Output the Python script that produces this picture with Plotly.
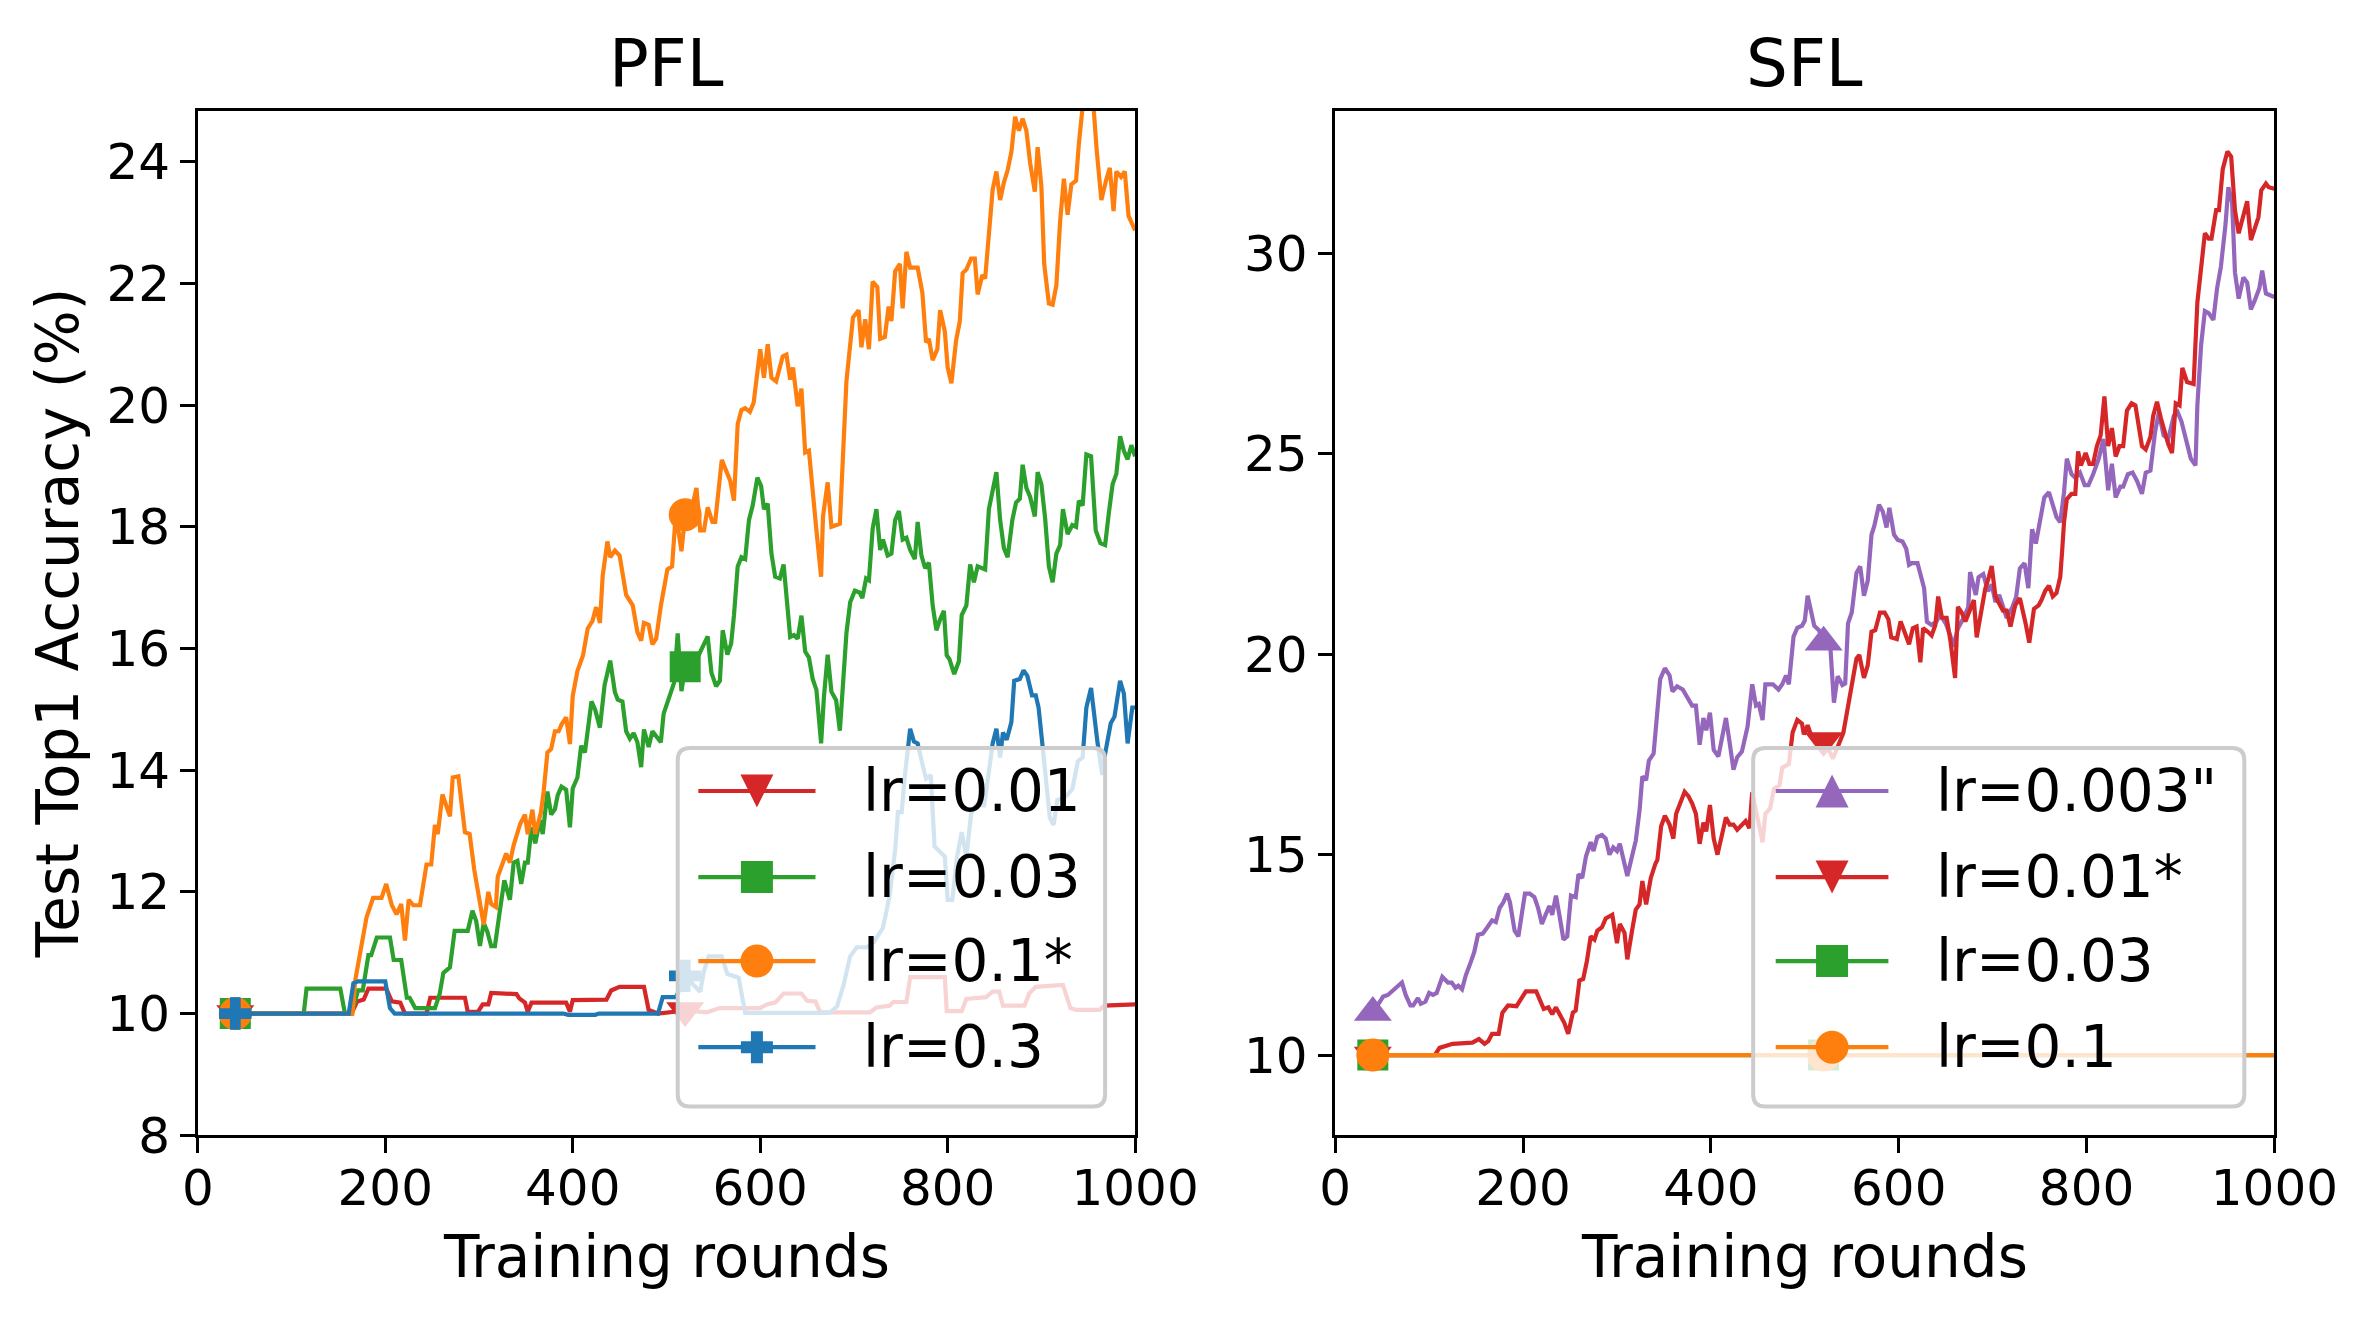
import plotly.graph_objects as go

# Colours (matplotlib tab10)
RED = "#d62728"
GREEN = "#2ca02c"
ORANGE = "#ff7f0e"
BLUE = "#1f77b4"
PURPLE = "#9467bd"

# Rounds that carry a marker on every curve
marker_rounds = [40, 520]

# ---------------- PFL ----------------
pfl_lr001_rounds = [40, 164, 170, 177, 182, 201, 207, 216, 221, 244, 248, 285, 288, 299, 304, 310, 313, 340, 343, 349,
                    352, 356, 393, 397, 400, 436, 441, 450, 476, 481, 491, 520, 543, 557, 600, 607, 616, 625, 644, 650,
                    659, 664, 717, 724, 738, 742, 756, 760, 797, 799, 815, 820, 841, 848, 855, 859, 882, 887, 894, 923,
                    931, 937, 962, 967, 1000]
pfl_lr001_acc = [10, 10, 10.2, 10.23, 10.41, 10.41, 10.2, 10.18, 10, 10, 10.26, 10.26, 10.03, 10.03, 10.15, 10.15, 10.34,
                 10.32, 10.25, 10.18, 10.03, 10.18, 10.18, 10.03, 10.22, 10.23, 10.38, 10.44, 10.44, 10.06, 10, 10.05,
                 10.02, 10.09, 10.09, 10.15, 10.18, 10.33, 10.33, 10.21, 10.2, 10.02, 10.02, 10.1, 10.13, 10.19, 10.19,
                 10.6, 10.6, 10.04, 10.04, 10.24, 10.27, 10.36, 10.36, 10.13, 10.13, 10.33, 10.44, 10.47, 10.09, 10.06,
                 10.06, 10.13, 10.15]

pfl_lr003_rounds = [40, 113, 116, 152, 157, 164, 171, 176, 182, 185, 191, 205, 209, 217, 223, 226, 232, 253, 258, 262,
                    269, 274, 288, 293, 297, 301, 305, 309, 313, 317, 322, 327, 333, 337, 341, 345, 349, 352, 356, 360,
                    365, 368, 373, 377, 381, 384, 388, 393, 397, 400, 405, 409, 413, 420, 424, 429, 434, 440, 445, 448,
                    453, 457, 461, 465, 469, 473, 476, 481, 485, 494, 497, 505, 508, 512, 516, 520, 530, 544, 548, 553,
                    557, 560, 565, 569, 572, 576, 580, 584, 588, 592, 597, 601, 604, 608, 612, 616, 621, 625, 628, 632,
                    636, 640, 644, 648, 652, 656, 660, 665, 668, 672, 676, 681, 685, 689, 692, 696, 701, 706, 709, 713,
                    716, 720, 724, 728, 731, 736, 740, 744, 748, 752, 756, 760, 765, 768, 772, 776, 780, 784, 788, 792,
                    796, 799, 802, 807, 812, 815, 820, 824, 828, 832, 840, 844, 848, 852, 856, 860, 864, 869, 873, 877,
                    880, 884, 888, 893, 896, 900, 904, 908, 912, 916, 920, 923, 928, 933, 937, 940, 944, 948, 953, 958,
                    963, 968, 972, 976, 980, 984, 988, 992, 996, 1000]
pfl_lr003_acc = [10, 10, 10.41, 10.41, 10, 10, 10.38, 10.38, 10.96, 10.96, 11.25, 11.25, 10.88, 10.88, 10.26, 10.26,
                 10.09, 10.09, 10.32, 10.67, 10.76, 11.36, 11.36, 11.69, 11.52, 11.11, 11.49, 11.34, 11.11, 11.11, 11.66,
                 12.19, 11.87, 12.48, 12.51, 12.13, 12.48, 12.48, 13.06, 12.8, 13.18, 12.95, 13.65, 13.27, 13.36, 13.59,
                 13.73, 13.68, 13.06, 13.7, 13.88, 14.4, 14.29, 15.13, 14.99, 14.7, 15.4, 15.8, 15.28, 15.16, 15.13,
                 14.64, 14.52, 14.61, 14.46, 14.05, 14.67, 14.38, 14.64, 14.46, 14.93, 15.28, 15.43, 16.25, 15.3, 15.7,
                 15.75, 16.2, 15.6, 15.38, 15.47, 16.3, 15.9, 16.08, 16.54, 17.35, 17.5, 17.47, 18.11, 18.35, 18.81,
                 18.67, 18.29, 18.38, 17.56, 17.18, 17.15, 17.38, 16.89, 16.19, 16.22, 16.16, 16.54, 15.95, 15.85, 15.5,
                 15.32, 14.44, 15.2, 15.9, 15.29, 15.15, 14.65, 15.61, 16.25, 16.76, 16.95, 16.92, 16.83, 17.15, 17.12,
                 17.97, 18.29, 17.62, 17.79, 17.53, 17.56, 18.11, 18.26, 17.79, 17.82, 17.62, 17.47, 18.08, 17.53,
                 17.32, 17.41, 16.71, 16.3, 16.48, 16.62, 15.89, 15.82, 15.58, 15.79, 16.55, 16.71, 17.38, 17.09, 17.35,
                 17.3, 18.29, 18.58, 18.9, 18.11, 17.65, 17.5, 18.11, 18.4, 18.46, 19.02, 18.64, 18.49, 18.17, 18.9,
                 18.7, 18.14, 17.35, 17.09, 17.56, 17.7, 18.29, 17.88, 18.03, 18.0, 18.43, 18.35, 19.19, 19.16, 17.94,
                 17.73, 17.7, 18.23, 18.7, 18.87, 19.49, 19.25, 19.11, 19.34, 19.16]

pfl_lr01_rounds = [40, 165, 168, 180, 187, 196, 201, 207, 212, 217, 221, 225, 230, 237, 244, 249, 253, 256, 261, 269,
                   272, 278, 285, 290, 295, 301, 305, 310, 313, 318, 320, 329, 333, 337, 344, 349, 352, 357, 360, 366,
                   369, 373, 377, 381, 385, 388, 393, 397, 400, 405, 411, 416, 421, 425, 429, 432, 437, 440, 445, 450,
                   457, 464, 469, 473, 476, 481, 485, 489, 494, 501, 506, 510, 516, 520, 527, 532, 536, 540, 544, 549,
                   552, 559, 565, 568, 572, 576, 580, 584, 589, 593, 600, 604, 608, 612, 617, 624, 628, 632, 635, 640,
                   644, 648, 652, 656, 660, 665, 667, 672, 676, 685, 692, 699, 705, 708, 712, 716, 720, 725, 728, 733,
                   737, 740, 744, 749, 752, 756, 760, 768, 773, 777, 780, 784, 789, 792, 797, 800, 804, 809, 813, 816,
                   820, 825, 829, 832, 837, 840, 845, 848, 852, 856, 860, 864, 868, 872, 876, 880, 884, 888, 893, 896,
                   900, 903, 908, 912, 916, 920, 924, 928, 932, 937, 940, 944, 951, 956, 959, 964, 969, 973, 977, 980,
                   985, 989, 993, 1000]
pfl_lr01_acc = [10, 10, 10.55, 11.58, 11.9, 11.9, 12.13, 11.78, 11.63, 11.8, 11.2, 11.87, 11.78, 11.78, 12.45, 12.45,
                13.1, 12.95, 13.6, 13.24, 13.88, 13.9, 12.98, 12.95, 12.36, 11.84, 11.46, 12.0, 11.8, 11.75, 12.25,
                12.63, 12.48, 12.77, 13.12, 13.27, 12.95, 13.35, 12.95, 13.3, 13.65, 14.29, 14.35, 14.64, 14.64, 14.75,
                14.87, 14.43, 15.22, 15.63, 15.89, 16.33, 16.45, 16.68, 16.42, 17.2, 17.76, 17.5, 17.61, 17.53, 16.88,
                16.71, 16.27, 16.13, 16.42, 16.39, 16.07, 16.16, 16.7, 17.3, 17.35, 18.23, 17.6, 18.2, 18.3, 18.64,
                17.94, 17.94, 18.32, 18.08, 18.08, 19.1, 18.87, 18.76, 18.43, 19.69, 19.92, 19.95, 19.89, 20.04, 20.92,
                20.45, 21.0, 20.45, 20.39, 20.8, 20.83, 20.42, 20.62, 19.98, 20.27, 19.22, 19.25, 18.52, 17.94, 17.18,
                18.17, 18.73, 18.0, 18.05, 20.39, 21.44, 21.56, 20.95, 21.41, 20.92, 22.03, 21.94, 21.09, 21.12, 21.62,
                21.38, 22.2, 22.32, 21.59, 22.52, 22.26, 22.26, 21.85, 21.03, 21.09, 20.74, 20.92, 21.56, 21.21, 20.62,
                20.36, 21.06, 21.38, 22.17, 22.23, 22.41, 22.41, 21.82, 22.14, 22.08, 23.13, 23.54, 23.84, 23.37, 23.66,
                23.86, 24.16, 24.74, 24.51, 24.71, 24.51, 23.98, 23.51, 24.24, 23.6, 22.32, 21.67, 21.65, 21.97, 23.02,
                23.72, 23.13, 23.63, 23.69, 24.3, 24.9, 25.3, 24.83, 24.19, 23.37, 23.69, 23.9, 23.19, 23.84, 23.75,
                23.84, 23.11, 22.87]

pfl_lr03_rounds = [40, 161, 166, 171, 200, 205, 210, 390, 395, 424, 428, 491, 496, 510, 516, 520, 529, 536, 540, 545,
                   559, 565, 577, 584, 674, 682, 689, 696, 703, 714, 721, 726, 731, 738, 744, 747, 751, 754, 760, 764,
                   768, 774, 777, 782, 786, 790, 797, 800, 805, 810, 815, 820, 825, 830, 839, 845, 848, 852, 856, 859,
                   863, 868, 871, 877, 881, 885, 890, 894, 897, 901, 905, 909, 913, 917, 923, 928, 933, 939, 944, 948,
                   953, 957, 960, 965, 968, 974, 978, 984, 988, 992, 997, 1000]
pfl_lr03_acc = [10, 10, 10.5, 10.53, 10.53, 10.09, 10, 10, 9.98, 9.98, 10, 10, 10.27, 10.27, 10.45, 10.62, 10.47, 10.36,
                10.7, 10.94, 10.94, 10.65, 10.59, 10.01, 10.01, 10.12, 10.47, 10.94, 11.09, 11.09, 11.17, 11.29, 11.41,
                11.93, 12.69, 13.31, 13.31, 13.86, 14.68, 14.47, 14.44, 14.04, 13.86, 13.92, 12.75, 12.69, 12.58, 11.87,
                11.87, 12.58, 12.98, 12.58, 13.28, 13.42, 13.42, 14.09, 14.44, 14.68, 14.21, 14.62, 14.5, 14.79, 15.47,
                15.5, 15.64, 15.55, 15.23, 15.23, 15.03, 14.44, 13.86, 13.22, 13.1, 13.51, 13.54, 13.6, 13.69, 14.15,
                14.21, 15.03, 15.35, 14.82, 14.44, 13.92, 14.27, 14.77, 14.88, 15.47, 15.26, 14.44, 15.03, 15.03]

# ---------------- SFL ----------------
sfl_lr0003_rounds = [40, 51, 56, 63, 71, 75, 80, 83, 88, 91, 96, 100, 104, 108, 114, 120, 124, 128, 131, 135, 139, 144,
                     148, 152, 157, 162, 167, 171, 175, 179, 183, 186, 191, 195, 199, 202, 207, 212, 216, 220, 224, 228,
                     231, 235, 239, 243, 247, 251, 256, 259, 263, 267, 272, 275, 279, 284, 288, 292, 296, 300, 303, 307,
                     311, 316, 320, 324, 327, 331, 334, 339, 342, 346, 351, 356, 359, 364, 370, 374, 380, 384, 388, 392,
                     395, 399, 403, 408, 412, 416, 420, 424, 428, 433, 439, 444, 448, 451, 455, 458, 466, 472, 476, 480,
                     483, 488, 492, 497, 500, 503, 510, 515, 520, 527, 531, 535, 540, 543, 546, 550, 555, 559, 563, 567,
                     571, 574, 579, 583, 587, 590, 595, 599, 604, 608, 611, 614, 620, 623, 627, 630, 635, 640, 644, 650,
                     655, 658, 663, 668, 674, 676, 682, 685, 690, 695, 699, 703, 707, 712, 715, 721, 725, 729, 734, 738,
                     742, 746, 751, 755, 760, 764, 768, 772, 776, 779, 784, 788, 793, 798, 802, 807, 813, 818, 823, 827,
                     831, 836, 839, 844, 849, 854, 859, 863, 868, 873, 877, 882, 887, 893, 897, 901, 907, 911, 916, 918,
                     922, 926, 930, 935, 939, 943, 948, 951, 955, 958, 962, 967, 971, 975, 979, 984, 987, 991, 1000]
sfl_lr0003_acc = [11.06, 11.46, 11.5, 11.64, 11.81, 11.5, 11.24, 11.24, 11.42, 11.28, 11.33, 11.55, 11.5, 11.55, 11.95,
                  11.81, 11.81, 11.68, 11.73, 11.64, 11.99, 12.3, 12.57, 13.0, 13.03, 13.19, 13.36, 13.32, 13.67, 13.81,
                  14.03, 13.81, 13.1, 12.96, 13.54, 14.03, 14.03, 13.94, 13.67, 13.27, 13.5, 13.72, 13.5, 13.98, 13.45,
                  12.88, 12.96, 13.98, 13.94, 14.51, 14.42, 14.96, 15.31, 15.09, 15.44, 15.49, 15.4, 15.0, 15.18, 15.09,
                  15.27, 14.82, 14.47, 14.96, 15.35, 16.1, 16.95, 16.86, 17.35, 17.52, 18.23, 19.38, 19.65, 19.47,
                  19.07, 19.2, 19.12, 18.94, 18.72, 18.72, 17.74, 18.41, 18.1, 18.54, 17.61, 17.45, 17.96, 18.41, 17.79,
                  17.12, 17.43, 17.57, 18.19, 19.25, 18.72, 18.76, 18.36, 19.25, 19.25, 19.12, 19.25, 19.47, 19.25,
                  20.44, 20.66, 20.71, 20.84, 21.46, 20.71, 20.6, 20.3, 20.25, 18.79, 19.45, 19.23, 19.27, 20.77, 21.04,
                  22.03, 22.19, 21.46, 21.83, 22.98, 23.2, 23.73, 23.56, 23.16, 23.65, 22.98, 22.85, 22.81, 22.63,
                  22.23, 22.27, 22.27, 22.0, 21.65, 20.81, 20.73, 20.81, 20.99, 20.77, 20.46, 20.19, 20.64, 20.86,
                  21.17, 22.05, 21.48, 21.92, 22.0, 21.57, 21.74, 21.3, 21.48, 21.12, 20.9, 21.17, 21.43, 22.14, 22.27,
                  21.65, 23.12, 22.76, 23.42, 23.91, 24.04, 23.73, 23.42, 23.29, 24.04, 24.88, 24.49, 24.4, 24.53,
                  24.22, 24.22, 24.49, 24.88, 25.37, 24.09, 24.75, 23.91, 24.18, 24.18, 24.49, 24.53, 24.31, 24.0,
                  24.53, 24.58, 25.55, 26.04, 25.46, 25.37, 25.95, 26.04, 25.81, 25.28, 24.88, 24.71, 26.21, 27.72,
                  28.56, 28.51, 28.34, 29.13, 29.66, 30.73, 31.65, 31.26, 29.53, 28.87, 29.4, 29.27, 28.6, 28.82, 29.13,
                  29.57, 29.0, 28.91]

sfl_lr001_rounds = [40, 106, 111, 118, 125, 146, 153, 159, 163, 167, 174, 178, 184, 193, 198, 203, 214, 219, 222, 227,
                    231, 235, 239, 244, 248, 253, 256, 260, 264, 268, 272, 276, 279, 284, 288, 295, 300, 303, 308, 311,
                    316, 320, 324, 327, 331, 336, 341, 343, 347, 351, 356, 360, 363, 366, 372, 376, 380, 384, 388, 392,
                    395, 399, 403, 407, 412, 416, 420, 424, 428, 433, 437, 441, 444, 448, 455, 458, 463, 467, 473, 476,
                    483, 487, 492, 497, 499, 503, 507, 520, 530, 541, 547, 552, 555, 558, 563, 567, 571, 575, 580, 585,
                    589, 592, 598, 602, 607, 611, 615, 619, 623, 626, 631, 635, 639, 642, 646, 651, 655, 660, 663, 667,
                    671, 675, 680, 683, 688, 692, 696, 699, 703, 706, 711, 715, 719, 724, 729, 735, 739, 744, 749, 752,
                    756, 760, 764, 768, 772, 774, 776, 779, 784, 788, 791, 794, 799, 803, 807, 811, 815, 819, 823, 827,
                    831, 835, 839, 843, 848, 852, 855, 859, 863, 868, 871, 875, 879, 884, 887, 891, 895, 899, 902, 907,
                    914, 918, 922, 926, 930, 933, 938, 941, 945, 950, 954, 958, 962, 966, 971, 975, 979, 983, 986, 991,
                    994, 1000]
sfl_lr001_acc = [10, 10, 10.18, 10.22, 10.28, 10.31, 10.4, 10.28, 10.35, 10.53, 10.53, 11.06, 11.24, 11.22, 11.42, 11.59,
                 11.59, 11.28, 11.15, 11.19, 11.02, 11.19, 11.02, 10.8, 10.53, 11.06, 11.11, 11.86, 11.9, 12.35, 12.96,
                 12.88, 13.1, 13.19, 13.41, 13.5, 12.79, 13.27, 13.05, 12.39, 13.1, 13.63, 13.76, 14.34, 13.76, 14.42,
                 14.78, 14.87, 15.71, 15.97, 15.75, 15.4, 16.02, 16.19, 16.57, 16.46, 16.28, 16.02, 15.27, 15.8, 15.58,
                 16.24, 15.4, 15.0, 15.58, 15.93, 15.75, 15.75, 15.62, 15.75, 15.84, 15.66, 16.55, 16.1, 15.31, 16.02,
                 16.15, 16.64, 16.73, 17.17, 17.26, 18.05, 18.36, 18.27, 18.0, 18.23, 17.96, 17.85, 17.4, 18.04, 18.83,
                 19.36, 19.89, 19.98, 19.41, 19.72, 20.56, 20.6, 21.04, 21.04, 20.87, 20.42, 20.38, 20.82, 20.51, 20.25,
                 20.65, 20.69, 19.8, 20.65, 20.56, 20.47, 20.73, 21.44, 20.91, 20.91, 20.34, 19.41, 21.18, 21.04, 20.82,
                 21.04, 21.35, 20.42, 21.13, 21.62, 21.93, 22.2, 21.44, 21.31, 21.09, 21.09, 20.69, 21.22, 21.4, 20.78,
                 20.29, 21.13, 21.22, 21.35, 21.58, 21.71, 21.44, 21.53, 21.93, 22.58, 23.29, 23.87, 24.0, 24.0, 25.06,
                 24.71, 25.02, 24.75, 24.75, 25.19, 25.46, 26.43, 25.19, 25.64, 24.93, 25.19, 25.19, 26.08, 26.26,
                 26.21, 25.73, 25.19, 25.11, 25.42, 25.95, 26.3, 25.9, 25.5, 25.24, 25.02, 26.26, 26.21, 27.14, 26.79,
                 26.74, 28.78, 29.71, 30.5, 30.37, 30.37, 31.08, 31.08, 32.1, 32.54, 32.41, 31.08, 30.5, 30.9, 31.3,
                 30.33, 30.59, 30.9, 31.57, 31.74, 31.65, 31.61]

sfl_lr003_rounds = [40, 520, 1000]
sfl_lr003_acc = [10, 10, 10]

sfl_lr01_rounds = [40, 520, 1000]
sfl_lr01_acc = [10, 10, 10]

# Series for each panel: (label, rounds, acc, colour, plotly symbol, marker size, legend glyph)
pfl_series = [
    ("lr=0.01", pfl_lr001_rounds, pfl_lr001_acc, RED, "triangle-down", 33, "tri_down"),
    ("lr=0.03", pfl_lr003_rounds, pfl_lr003_acc, GREEN, "square", 31, "square"),
    ("lr=0.1*", pfl_lr01_rounds, pfl_lr01_acc, ORANGE, "circle", 33, "circle"),
    ("lr=0.3", pfl_lr03_rounds, pfl_lr03_acc, BLUE, "cross", 27, "plus"),
]
sfl_series = [
    ('lr=0.003"', sfl_lr0003_rounds, sfl_lr0003_acc, PURPLE, "triangle-up", 33, "tri_up"),
    ("lr=0.01*", sfl_lr001_rounds, sfl_lr001_acc, RED, "triangle-down", 33, "tri_down"),
    ("lr=0.03", sfl_lr003_rounds, sfl_lr003_acc, GREEN, "square", 31, "square"),
    ("lr=0.1", sfl_lr01_rounds, sfl_lr01_acc, ORANGE, "circle", 33, "circle"),
]

FONT = "DejaVu Sans"
LINE_W = 4.2

fig = go.Figure()


def add_curves(series, xa, ya):
    for label, rounds, acc, colour, symbol, size, _ in series:
        fig.add_trace(go.Scatter(
            x=rounds, y=acc, mode="lines", name=label, showlegend=False,
            line=dict(color=colour, width=LINE_W), xaxis=xa, yaxis=ya,
        ))
        idx = [i for i, r in enumerate(rounds) if r in marker_rounds]
        fig.add_trace(go.Scatter(
            x=[rounds[i] for i in idx], y=[acc[i] for i in idx], mode="markers",
            showlegend=False, marker=dict(color=colour, symbol=symbol, size=size, line=dict(width=0)),
            xaxis=xa, yaxis=ya,
        ))


add_curves(pfl_series, "x", "y")
add_curves(sfl_series, "x2", "y2")

# Hand-drawn legends (matplotlib look: rounded, semi-transparent frame)
GLYPHS = {
    "tri_down": "M -16.5,16.5 L 16.5,16.5 L 0,-16.5 Z",
    "tri_up": "M -16.5,-16.5 L 16.5,-16.5 L 0,16.5 Z",
    "square": "M -16,-16 L 16,-16 L 16,16 L -16,16 Z",
    "plus": "M -6,16 L 6,16 L 6,6 L 16,6 L 16,-6 L 6,-6 L 6,-16 L -6,-16 L -6,-6 L -16,-6 L -16,6 L -6,6 Z",
}
legend_rows = [0.336, 0.252, 0.170, 0.086]


def add_legend(series, xa, ya, box_x0, box_x1, line_x0, line_x1, text_x):
    xref, yref = xa + " domain", ya + " domain"
    box_y0, box_y1 = 0.028, 0.378
    rx, ry = 0.013, 0.012
    path = (f"M {box_x0 + rx},{box_y0} L {box_x1 - rx},{box_y0} Q {box_x1},{box_y0} {box_x1},{box_y0 + ry} "
            f"L {box_x1},{box_y1 - ry} Q {box_x1},{box_y1} {box_x1 - rx},{box_y1} "
            f"L {box_x0 + rx},{box_y1} Q {box_x0},{box_y1} {box_x0},{box_y1 - ry} "
            f"L {box_x0},{box_y0 + ry} Q {box_x0},{box_y0} {box_x0 + rx},{box_y0} Z")
    fig.add_shape(type="path", path=path, xref=xref, yref=yref, layer="above",
                  fillcolor="rgba(255,255,255,0.8)", line=dict(color="#cccccc", width=4))
    mid = (line_x0 + line_x1) / 2
    for (label, _, _, colour, _, _, glyph), yy in zip(series, legend_rows):
        fig.add_shape(type="line", x0=line_x0, x1=line_x1, y0=yy, y1=yy, xref=xref, yref=yref,
                      layer="above", line=dict(color=colour, width=LINE_W))
        if glyph == "circle":
            fig.add_shape(type="circle", xref=xref, yref=yref, xsizemode="pixel", ysizemode="pixel",
                          xanchor=mid, yanchor=yy, x0=-16.5, x1=16.5, y0=-16.5, y1=16.5,
                          layer="above", fillcolor=colour, line=dict(width=0))
        else:
            fig.add_shape(type="path", xref=xref, yref=yref, xsizemode="pixel", ysizemode="pixel",
                          xanchor=mid, yanchor=yy, path=GLYPHS[glyph],
                          layer="above", fillcolor=colour, line=dict(width=0))
        fig.add_annotation(x=text_x, y=yy, xref=xref, yref=yref, text=label, showarrow=False,
                           xanchor="left", yanchor="middle", font=dict(family=FONT, size=58, color="black"))


add_legend(pfl_series, "x", "y", 0.512, 0.968, 0.534, 0.659, 0.708)
add_legend(sfl_series, "x2", "y2", 0.445, 0.968, 0.469, 0.589, 0.638)

# Panel titles and axis labels
for text, xx in [("PFL", 0.2806), ("SFL", 0.7777)]:
    fig.add_annotation(x=xx, y=0.957, xref="paper", yref="paper", text=text, showarrow=False,
                       xanchor="center", yanchor="middle", font=dict(family=FONT, size=66, color="black"))
    fig.add_annotation(x=xx, y=0.030, xref="paper", yref="paper", text="Training rounds", showarrow=False,
                       xanchor="center", yanchor="middle", borderpad=0,
                       font=dict(family=FONT, size=58, color="black"))
fig.add_annotation(x=0.0150, y=0.5226, xref="paper", yref="paper", text="Test Top1 Accuracy (%)",
                   showarrow=False, textangle=-90, xanchor="center", yanchor="middle",
                   font=dict(family=FONT, size=58, color="black"))

axis_style = dict(
    showline=True, linecolor="black", linewidth=3.3, mirror=True, showgrid=False, zeroline=False,
    ticks="outside", ticklen=14.6, tickwidth=3.3, tickcolor="black",
    tickfont=dict(family=FONT, size=50, color="black"),
)
x_ticks = [0, 200, 400, 600, 800, 1000]

fig.update_layout(
    width=2370, height=1317,
    margin=dict(l=0, r=0, t=0, b=0),
    paper_bgcolor="white", plot_bgcolor="white",
    showlegend=False,
    xaxis=dict(domain=[0.0759, 0.4852], range=[0, 1000], tickvals=x_ticks, anchor="y",
               ticklabelstandoff=-8, **axis_style),
    yaxis=dict(domain=[0.1248, 0.9203], range=[8, 24.84], tickvals=list(range(8, 25, 2)), anchor="x", **axis_style),
    xaxis2=dict(domain=[0.5726, 0.9827], range=[0, 1000], tickvals=x_ticks, anchor="y2",
                ticklabelstandoff=-8, **axis_style),
    yaxis2=dict(domain=[0.1248, 0.9203], range=[8, 33.56], tickvals=[10, 15, 20, 25, 30], anchor="x2", **axis_style),
)

fig.write_html("out.html")
